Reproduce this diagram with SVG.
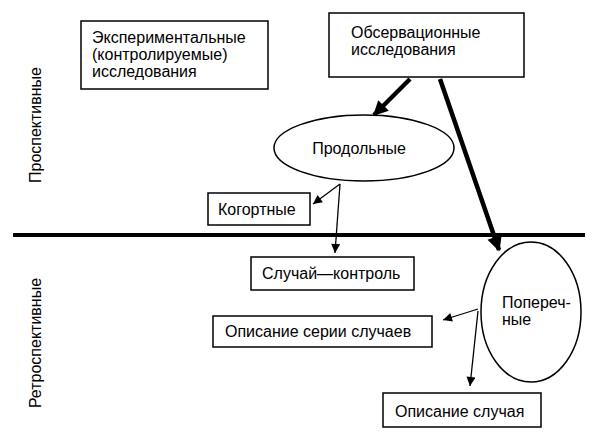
<svg xmlns="http://www.w3.org/2000/svg" width="602" height="443" viewBox="0 0 602 443">
<defs>
<style>
text{font-family:"Liberation Sans",Arial,sans-serif;font-size:16px;fill:#000}
.box{fill:#fff;stroke:#000;stroke-width:1.5}
.thin{stroke:#000;stroke-width:1.3;fill:none}
.thick{stroke:#000;stroke-width:4.5;fill:none}
</style>
<marker id="ah" viewBox="0 0 10 10" refX="10" refY="5" markerWidth="10" markerHeight="9" markerUnits="userSpaceOnUse" orient="auto"><path d="M0,0 L10,5 L0,10 z" fill="#000"/></marker>
<marker id="ahb" viewBox="0 0 10 10" refX="9" refY="5" markerWidth="16" markerHeight="15" markerUnits="userSpaceOnUse" orient="auto"><path d="M0,0 L10,5 L0,10 z" fill="#000"/></marker>
</defs>
<rect width="602" height="443" fill="#fff"/>
<g id="labels">
<text transform="translate(41,125) rotate(-90)" text-anchor="middle">Проспективные</text>
<text transform="translate(41,343) rotate(-90)" text-anchor="middle">Ретроспективные</text>
</g>
<g id="divider"><line x1="13" y1="235" x2="585" y2="235" stroke="#000" stroke-width="4"/></g>
<g id="connectors">
<line class="thick" x1="410" y1="79" x2="374" y2="115" marker-end="url(#ahb)"/>
<line class="thick" x1="440" y1="79" x2="499" y2="250" marker-end="url(#ahb)"/>
<line class="thin" x1="340" y1="184" x2="313" y2="204" marker-end="url(#ah)"/>
<line class="thin" x1="340" y1="184" x2="335" y2="253" marker-end="url(#ah)"/>
<line class="thin" x1="478" y1="309" x2="443" y2="320" marker-end="url(#ah)"/>
<line class="thin" x1="478" y1="311" x2="470" y2="386" marker-end="url(#ah)"/>
</g>
<g id="experimental">
<rect class="box" x="81" y="21" width="187" height="68"/>
<text x="92" y="43">Экспериментальные</text>
<text x="92" y="60">(контролируемые)</text>
<text x="92" y="77">исследования</text>
</g>
<g id="observational">
<rect class="box" x="329" y="13" width="195" height="64"/>
<text x="351" y="38">Обсервационные</text>
<text x="351" y="55">исследования</text>
</g>
<g id="longitudinal">
<ellipse class="box" cx="364" cy="148" rx="90" ry="33"/>
<text x="359" y="154" text-anchor="middle">Продольные</text>
</g>
<g id="cohort">
<rect class="box" x="208" y="193" width="102" height="32"/>
<text x="218" y="215">Когортные</text>
</g>
<g id="casecontrol">
<rect class="box" x="251" y="257" width="163" height="33"/>
<text x="262" y="279">Случай—контроль</text>
</g>
<g id="crosssectional">
<ellipse class="box" cx="531" cy="312" rx="50" ry="70"/>
<text x="502" y="308">Попереч-</text>
<text x="502" y="325">ные</text>
</g>
<g id="caseseries">
<rect class="box" x="213" y="316" width="219" height="31"/>
<text x="225" y="337">Описание серии случаев</text>
</g>
<g id="casereport">
<rect class="box" x="383" y="393" width="158" height="34"/>
<text x="395" y="417">Описание случая</text>
</g>
</svg>
